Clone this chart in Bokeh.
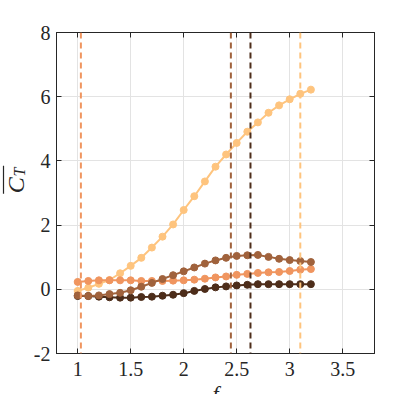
from math import pi
from bokeh.plotting import figure
from bokeh.layouts import row
from bokeh.models import Span, LinearAxis, FixedTicker, Range1d, CustomJSTickFormatter
from bokeh.core.properties import value
from bokeh.embed import file_html
from bokeh.resources import INLINE

f = [1.0, 1.1, 1.2, 1.3, 1.4, 1.5, 1.6, 1.7, 1.8, 1.9, 2.0, 2.1,
     2.2, 2.3, 2.4, 2.5, 2.6, 2.7, 2.8, 2.9, 3.0, 3.1, 3.2]
ct_light = [-0.05, 0.05, 0.17, 0.29, 0.50, 0.73, 0.98, 1.30, 1.64, 2.02, 2.47, 2.90,
            3.36, 3.82, 4.20, 4.56, 4.91, 5.20, 5.50, 5.73, 5.92, 6.09, 6.22]
ct_orange = [0.23, 0.26, 0.28, 0.28, 0.28, 0.28, 0.26, 0.26, 0.26, 0.27, 0.28, 0.30,
             0.33, 0.37, 0.40, 0.45, 0.48, 0.51, 0.53, 0.54, 0.57, 0.61, 0.63]
ct_brown = [-0.19, -0.21, -0.19, -0.15, -0.11, -0.03, 0.08, 0.20, 0.32, 0.44, 0.56, 0.68,
            0.80, 0.90, 0.98, 1.04, 1.06, 1.07, 1.01, 0.95, 0.91, 0.88, 0.85]
ct_dark = [-0.21, -0.21, -0.23, -0.25, -0.26, -0.26, -0.24, -0.23, -0.20, -0.17, -0.12, -0.05,
           0.01, 0.06, 0.09, 0.12, 0.14, 0.16, 0.16, 0.16, 0.16, 0.16, 0.16]
f_crit = [1.03, 2.445, 2.63, 3.10]
x_ticks = [1, 1.5, 2, 2.5, 3, 3.5]
y_ticks = [-2, 0, 2, 4, 6, 8]

C_LIGHT = "#fec47e"
C_ORANGE = "#f0955f"
C_BROWN = "#a0623c"
C_DARK = "#4d2d1a"
crit_colors = [C_ORANGE, C_BROWN, C_DARK, C_LIGHT]

FONT = "Liberation Serif"
AX = "#262626"
H = 394
LABW = 29

# ---- main plot ----
p = figure(frame_width=318, frame_height=321,
           x_range=Range1d(0.8, 3.8), y_range=Range1d(-2, 8),
           output_backend="svg", toolbar_location=None,
           min_border_left=56 - LABW, min_border_right=32, min_border_top=32, min_border_bottom=41)
p.background_fill_color = "white"
p.border_fill_color = "white"
p.outline_line_color = AX
p.outline_line_width = 1

plain = CustomJSTickFormatter(code="return String(tick)")
for ax, ticks in ((p.xaxis[0], x_ticks), (p.yaxis[0], y_ticks)):
    ax.ticker = FixedTicker(ticks=ticks)
    ax.formatter = plain
    ax.major_tick_in = 5
    ax.major_tick_out = 0
    ax.minor_tick_line_color = None
    ax.axis_line_color = AX
    ax.major_tick_line_color = AX
    ax.major_label_text_font = FONT
    ax.major_label_text_font_size = "20px"
    ax.major_label_text_color = AX
p.xaxis.major_label_standoff = 8
p.yaxis.major_label_standoff = 6
p.xaxis.axis_label = "f"
p.xaxis.axis_label_text_font = FONT
p.xaxis.axis_label_text_font_style = "italic"
p.xaxis.axis_label_text_font_size = "22px"
p.xaxis.axis_label_text_color = AX
p.xaxis.axis_label_standoff = 2

for loc, ticks in (("right", y_ticks), ("above", x_ticks)):
    extra = LinearAxis(ticker=FixedTicker(ticks=ticks),
                       formatter=CustomJSTickFormatter(code="return ''"))
    extra.major_tick_in = 5
    extra.major_tick_out = 0
    extra.minor_tick_line_color = None
    extra.axis_line_color = AX
    extra.major_tick_line_color = AX
    extra.major_label_text_font_size = "1px"
    extra.major_label_standoff = 0
    p.add_layout(extra, loc)

p.xgrid.ticker = FixedTicker(ticks=x_ticks)
p.ygrid.ticker = FixedTicker(ticks=y_ticks)
p.grid.grid_line_color = "#e3e3e3"
p.grid.grid_line_width = 1

for fc, col in zip(f_crit, crit_colors):
    p.add_layout(Span(location=fc, dimension="height", line_color=col,
                      line_width=2, line_dash="6 4"))

for ys, col in ((ct_light, C_LIGHT), (ct_orange, C_ORANGE), (ct_dark, C_DARK), (ct_brown, C_BROWN)):
    p.line(f, ys, line_color=col, line_width=2)
    p.scatter(f, ys, size=7, fill_color=col, line_color=col)

# ---- y-axis label strip: overline C with subscript T, rotated ----
lab = figure(width=LABW, height=H, x_range=Range1d(0, LABW), y_range=Range1d(0, H),
             output_backend="svg", toolbar_location=None, min_border=0)
lab.axis.visible = False
lab.grid.visible = False
lab.outline_line_color = None
lab.background_fill_color = "white"
lab.border_fill_color = "white"
lab.text(x=[15], y=[H - 196], text=["C"], angle=pi / 2, text_align="center",
         text_baseline="middle", text_font=value(FONT), text_font_style="italic",
         text_font_size="24px", text_color=AX)
lab.text(x=[19], y=[H - 179], text=["T"], angle=pi / 2, text_align="center",
         text_baseline="middle", text_font=value(FONT), text_font_style="italic",
         text_font_size="16px", text_color=AX)
lab.segment(x0=[3], y0=[H - 207], x1=[3], y1=[H - 171], line_color=AX, line_width=1.2)

open("out.html", "w").write(file_html(row(lab, p), INLINE))
